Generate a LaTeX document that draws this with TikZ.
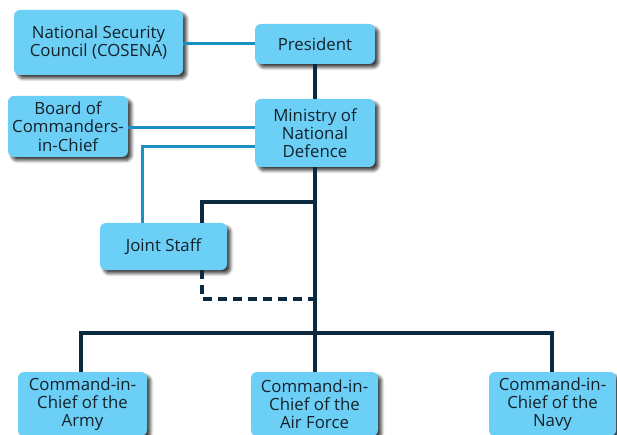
\documentclass[tikz,border=0pt]{standalone}
\usepackage{fontspec}
\setmainfont{Open Sans}
\usetikzlibrary{shadows.blur}
\definecolor{boxblue}{HTML}{6CCFF6}
\definecolor{lineblue}{HTML}{1B8EC2}
\definecolor{navy}{HTML}{0B2A3F}
\definecolor{txt}{HTML}{14212B}
\begin{document}
\begin{tikzpicture}[x=1pt,y=-1pt,
  box/.style={rectangle, rounded corners=6pt, fill=boxblue, draw=none, text=txt,
    align=center, font=\fontsize{16.8}{18.2}\selectfont, inner sep=0pt,
    blur shadow={shadow xshift=3.5pt, shadow yshift=-3.5pt, shadow blur steps=6, shadow opacity=75, shadow blur radius=3pt}},
  blueline/.style={draw=lineblue, line width=3pt},
  navyline/.style={draw=navy, line width=3.2pt},
  navydash/.style={draw=navy, line width=3.2pt, dash pattern=on 9pt off 6pt}]
\useasboundingbox (0,0) rectangle (617,435);
\node[box, minimum width=169pt, minimum height=65pt] (cos) at (98.5,42.5) {National Security\\Council (COSENA)};
\node[box, minimum width=120pt, minimum height=40pt] (pres) at (315,44) {President};
\node[box, minimum width=120pt, minimum height=68pt] (mnd) at (315,133) {Ministry of\\National\\Defence};
\node[box, minimum width=120pt, minimum height=61pt] (board) at (68,126.5) {Board of\\Commanders-\\in-Chief};
\node[box, minimum width=127pt, minimum height=47pt] (joint) at (163.5,246.5) {Joint Staff};
\node[box, minimum width=129pt, minimum height=64pt] (army) at (82.5,404) {Command-in-\\Chief of the\\Army};
\node[box, minimum width=127pt, minimum height=64pt] (air) at (314.5,404) {Command-in-\\Chief of the\\Air Force};
\node[box, minimum width=127pt, minimum height=64pt] (navy) at (552.5,404) {Command-in-\\Chief of the\\Navy};
% connectors
\coordinate (hl) at (81,333);
\coordinate (hr) at (552,333);
\coordinate (hm) at (315,333);
\coordinate (jt) at (315,202);
\coordinate (jb) at (315,299);
\draw[blueline] (cos.east |- 0,44) -- (pres.west |- 0,44);
\draw[blueline] (board.east |- 0,128) -- (mnd.west |- 0,128);
\draw[blueline] (mnd.west |- 0,147) -- (142,147) -- (142,0 |- joint.north);
\draw[navyline] (pres.south) -- (mnd.north);
\draw[navyline] (mnd.south) -- (hm);
\draw[navyline] (army.north -| hl) -- (hl) -- (hr) -- (navy.north -| hr);
\draw[navyline] (hm) -- (air.north -| hm);
\draw[navyline] (jt) -- (202,202) -- (202,0 |- joint.north);
\draw[navydash] (202,0 |- joint.south) -- (202,299) -- (jb);
\end{tikzpicture}
\end{document}
